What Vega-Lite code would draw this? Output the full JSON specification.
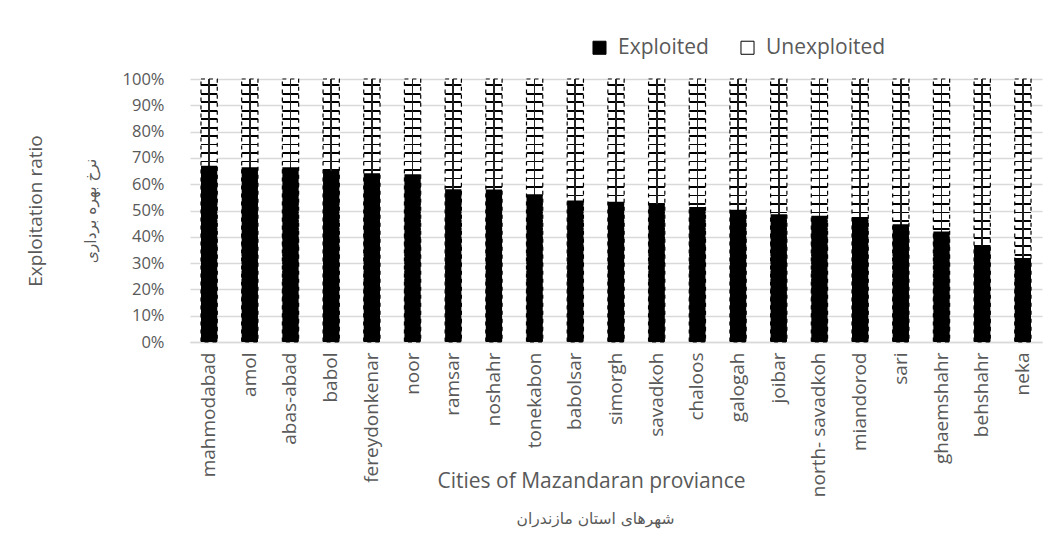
{
  "$schema": "https://vega.github.io/schema/vega-lite/v6.json",
  "autosize": "none",
  "width": 852,
  "height": 263,
  "padding": {"left": 190, "top": 79, "right": 7, "bottom": 196},
  "background": "white",
  "config": {
    "view": {"stroke": null},
    "font": "Open Sans"
  },
  "data": {
    "values": [
      {"city": "mahmodabad", "Exploited": 0.670, "Unexploited": 0.330},
      {"city": "amol", "Exploited": 0.664, "Unexploited": 0.336},
      {"city": "abas-abad", "Exploited": 0.664, "Unexploited": 0.336},
      {"city": "babol", "Exploited": 0.651, "Unexploited": 0.349},
      {"city": "fereydonkenar", "Exploited": 0.642, "Unexploited": 0.358},
      {"city": "noor", "Exploited": 0.638, "Unexploited": 0.362},
      {"city": "ramsar", "Exploited": 0.581, "Unexploited": 0.419},
      {"city": "noshahr", "Exploited": 0.580, "Unexploited": 0.420},
      {"city": "tonekabon", "Exploited": 0.562, "Unexploited": 0.438},
      {"city": "babolsar", "Exploited": 0.538, "Unexploited": 0.462},
      {"city": "simorgh", "Exploited": 0.533, "Unexploited": 0.467},
      {"city": "savadkoh", "Exploited": 0.524, "Unexploited": 0.476},
      {"city": "chaloos", "Exploited": 0.513, "Unexploited": 0.487},
      {"city": "galogah", "Exploited": 0.503, "Unexploited": 0.497},
      {"city": "joibar", "Exploited": 0.486, "Unexploited": 0.514},
      {"city": "north- savadkoh", "Exploited": 0.480, "Unexploited": 0.520},
      {"city": "miandorod", "Exploited": 0.475, "Unexploited": 0.525},
      {"city": "sari", "Exploited": 0.448, "Unexploited": 0.552},
      {"city": "ghaemshahr", "Exploited": 0.420, "Unexploited": 0.580},
      {"city": "behshahr", "Exploited": 0.367, "Unexploited": 0.633},
      {"city": "neka", "Exploited": 0.319, "Unexploited": 0.681}
    ]
  },
  "transform": [
    {"fold": ["Exploited", "Unexploited"], "as": ["series", "value"]}
  ],
  "resolve": {"axis": {"x": "independent", "y": "independent"}},
  "layer": [
    {
      "mark": {
        "type": "bar",
        "stroke": "#000000",
        "strokeWidth": 1.2,
        "strokeDash": [4, 4],
        "fill": {
          "gradient": "linear", "x1": 0, "y1": 0, "x2": 0, "y2": 1,
          "stops": [
            {"offset": 0, "color": "#ffffff"},
            {"offset": 0.02, "color": "#ffffff"}, {"offset": 0.02, "color": "#000000"}, {"offset": 0.027, "color": "#000000"}, {"offset": 0.027, "color": "#ffffff"},
            {"offset": 0.0523, "color": "#ffffff"}, {"offset": 0.0523, "color": "#000000"}, {"offset": 0.0593, "color": "#000000"}, {"offset": 0.0593, "color": "#ffffff"},
            {"offset": 0.0845, "color": "#ffffff"}, {"offset": 0.0845, "color": "#000000"}, {"offset": 0.0915, "color": "#000000"}, {"offset": 0.0915, "color": "#ffffff"},
            {"offset": 0.1168, "color": "#ffffff"}, {"offset": 0.1168, "color": "#000000"}, {"offset": 0.1238, "color": "#000000"}, {"offset": 0.1238, "color": "#ffffff"},
            {"offset": 0.149, "color": "#ffffff"}, {"offset": 0.149, "color": "#000000"}, {"offset": 0.156, "color": "#000000"}, {"offset": 0.156, "color": "#ffffff"},
            {"offset": 0.1813, "color": "#ffffff"}, {"offset": 0.1813, "color": "#000000"}, {"offset": 0.1883, "color": "#000000"}, {"offset": 0.1883, "color": "#ffffff"},
            {"offset": 0.2135, "color": "#ffffff"}, {"offset": 0.2135, "color": "#000000"}, {"offset": 0.2205, "color": "#000000"}, {"offset": 0.2205, "color": "#ffffff"},
            {"offset": 0.2458, "color": "#ffffff"}, {"offset": 0.2458, "color": "#000000"}, {"offset": 0.2528, "color": "#000000"}, {"offset": 0.2528, "color": "#ffffff"},
            {"offset": 0.2781, "color": "#ffffff"}, {"offset": 0.2781, "color": "#000000"}, {"offset": 0.2851, "color": "#000000"}, {"offset": 0.2851, "color": "#ffffff"},
            {"offset": 0.3103, "color": "#ffffff"}, {"offset": 0.3103, "color": "#000000"}, {"offset": 0.3173, "color": "#000000"}, {"offset": 0.3173, "color": "#ffffff"},
            {"offset": 0.3426, "color": "#ffffff"}, {"offset": 0.3426, "color": "#000000"}, {"offset": 0.3496, "color": "#000000"}, {"offset": 0.3496, "color": "#ffffff"},
            {"offset": 0.3748, "color": "#ffffff"}, {"offset": 0.3748, "color": "#000000"}, {"offset": 0.3818, "color": "#000000"}, {"offset": 0.3818, "color": "#ffffff"},
            {"offset": 0.4071, "color": "#ffffff"}, {"offset": 0.4071, "color": "#000000"}, {"offset": 0.4141, "color": "#000000"}, {"offset": 0.4141, "color": "#ffffff"},
            {"offset": 0.4394, "color": "#ffffff"}, {"offset": 0.4394, "color": "#000000"}, {"offset": 0.4464, "color": "#000000"}, {"offset": 0.4464, "color": "#ffffff"},
            {"offset": 0.4716, "color": "#ffffff"}, {"offset": 0.4716, "color": "#000000"}, {"offset": 0.4786, "color": "#000000"}, {"offset": 0.4786, "color": "#ffffff"},
            {"offset": 0.5039, "color": "#ffffff"}, {"offset": 0.5039, "color": "#000000"}, {"offset": 0.5109, "color": "#000000"}, {"offset": 0.5109, "color": "#ffffff"},
            {"offset": 0.5361, "color": "#ffffff"}, {"offset": 0.5361, "color": "#000000"}, {"offset": 0.5431, "color": "#000000"}, {"offset": 0.5431, "color": "#ffffff"},
            {"offset": 0.5684, "color": "#ffffff"}, {"offset": 0.5684, "color": "#000000"}, {"offset": 0.5754, "color": "#000000"}, {"offset": 0.5754, "color": "#ffffff"},
            {"offset": 0.6006, "color": "#ffffff"}, {"offset": 0.6006, "color": "#000000"}, {"offset": 0.6076, "color": "#000000"}, {"offset": 0.6076, "color": "#ffffff"},
            {"offset": 0.6329, "color": "#ffffff"}, {"offset": 0.6329, "color": "#000000"}, {"offset": 0.6399, "color": "#000000"}, {"offset": 0.6399, "color": "#ffffff"},
            {"offset": 0.6652, "color": "#ffffff"}, {"offset": 0.6652, "color": "#000000"}, {"offset": 0.6722, "color": "#000000"}, {"offset": 0.6722, "color": "#ffffff"},
            {"offset": 0.6974, "color": "#ffffff"}, {"offset": 0.6974, "color": "#000000"}, {"offset": 0.7044, "color": "#000000"}, {"offset": 0.7044, "color": "#ffffff"},
            {"offset": 0.7297, "color": "#ffffff"}, {"offset": 0.7297, "color": "#000000"}, {"offset": 0.7367, "color": "#000000"}, {"offset": 0.7367, "color": "#ffffff"},
            {"offset": 0.7619, "color": "#ffffff"}, {"offset": 0.7619, "color": "#000000"}, {"offset": 0.7689, "color": "#000000"}, {"offset": 0.7689, "color": "#ffffff"},
            {"offset": 0.7942, "color": "#ffffff"}, {"offset": 0.7942, "color": "#000000"}, {"offset": 0.8012, "color": "#000000"}, {"offset": 0.8012, "color": "#ffffff"},
            {"offset": 0.8265, "color": "#ffffff"}, {"offset": 0.8265, "color": "#000000"}, {"offset": 0.8335, "color": "#000000"}, {"offset": 0.8335, "color": "#ffffff"},
            {"offset": 0.8587, "color": "#ffffff"}, {"offset": 0.8587, "color": "#000000"}, {"offset": 0.8657, "color": "#000000"}, {"offset": 0.8657, "color": "#ffffff"},
            {"offset": 0.891, "color": "#ffffff"}, {"offset": 0.891, "color": "#000000"}, {"offset": 0.898, "color": "#000000"}, {"offset": 0.898, "color": "#ffffff"},
            {"offset": 0.9232, "color": "#ffffff"}, {"offset": 0.9232, "color": "#000000"}, {"offset": 0.9302, "color": "#000000"}, {"offset": 0.9302, "color": "#ffffff"},
            {"offset": 0.9555, "color": "#ffffff"}, {"offset": 0.9555, "color": "#000000"}, {"offset": 0.9625, "color": "#000000"}, {"offset": 0.9625, "color": "#ffffff"},
            {"offset": 0.9877, "color": "#ffffff"}, {"offset": 0.9877, "color": "#000000"}, {"offset": 0.9947, "color": "#000000"}, {"offset": 0.9947, "color": "#ffffff"},
            {"offset": 1, "color": "#ffffff"}
          ]
        }
      },
      "encoding": {
        "x": {
          "field": "city", "type": "nominal", "sort": null,
          "scale": {"paddingInner": 0.6, "paddingOuter": 0.27},
          "axis": {
            "orient": "bottom",
            "labelAngle": -90,
            "labelFont": "Open Sans",
            "labelFontSize": 19,
            "labelColor": "#595959",
            "labelPadding": 10,
            "ticks": false,
            "domainColor": "#d9d9d9",
            "domainWidth": 1.5,
            "grid": false,
            "title": "Cities of Mazandaran proviance",
            "titleFont": "Open Sans",
            "titleFontSize": 21,
            "titleFontWeight": "normal",
            "titleColor": "#595959",
            "titleX": 401,
            "titleY": 139,
            "titleBaseline": "middle",
            "titleAlign": "center"
          }
        },
        "y": {
          "aggregate": "sum", "field": "value", "type": "quantitative",
          "scale": {"domain": [0, 1], "nice": false},
          "axis": {
            "orient": "left",
            "values": [0, 0.1, 0.2, 0.3, 0.4, 0.5, 0.6, 0.7, 0.8, 0.9, 1],
            "format": ".0%",
            "labelFont": "Open Sans",
            "labelFontSize": 16.5,
            "labelColor": "#595959",
            "labelPadding": 26,
            "ticks": false,
            "domain": false,
            "grid": true,
            "gridColor": "#d9d9d9",
            "gridWidth": 1.5,
            "title": "نرخ بهره برداری",
            "titleFont": "DejaVu Sans",
            "titleFontSize": 15.5,
            "titleFontWeight": "normal",
            "titleColor": "#595959",
            "titleX": -100,
            "titleBaseline": "middle"
          }
        }
      }
    },
    {
      "mark": {
        "type": "bar",
        "fill": {
          "gradient": "linear", "x1": 0, "y1": 0, "x2": 1, "y2": 0,
          "stops": [
            {"offset": 0, "color": "rgba(0,0,0,0)"},
            {"offset": 0.45, "color": "rgba(0,0,0,0)"},
            {"offset": 0.45, "color": "#222222"},
            {"offset": 0.55, "color": "#222222"},
            {"offset": 0.55, "color": "rgba(0,0,0,0)"},
            {"offset": 1, "color": "rgba(0,0,0,0)"}
          ]
        }
      },
      "encoding": {
        "x": {
          "field": "city", "type": "nominal", "sort": null,
          "axis": {
            "orient": "bottom",
            "labels": false,
            "ticks": false,
            "domain": false,
            "grid": false,
            "title": "شهرهای استان مازندران",
            "titleFont": "DejaVu Sans",
            "titleFontSize": 15.5,
            "titleFontWeight": "normal",
            "titleColor": "#595959",
            "titleX": 405,
            "titleY": 176,
            "titleBaseline": "middle",
            "titleAlign": "center"
          }
        },
        "y": {
          "aggregate": "sum", "field": "value", "type": "quantitative",
          "axis": {
            "orient": "left",
            "labels": false,
            "ticks": false,
            "domain": false,
            "grid": false,
            "title": "Exploitation ratio",
            "titleFont": "Open Sans",
            "titleFontSize": 19,
            "titleFontWeight": "normal",
            "titleColor": "#595959",
            "titleX": -155,
            "titleBaseline": "middle"
          }
        }
      }
    },
    {
      "mark": {"type": "bar"},
      "encoding": {
        "x": {"field": "city", "type": "nominal", "sort": null, "axis": null},
        "y": {"field": "value", "type": "quantitative", "stack": "zero", "axis": null},
        "order": {"field": "series", "type": "nominal", "sort": "ascending"},
        "color": {
          "field": "series", "type": "nominal",
          "scale": {"domain": ["Exploited", "Unexploited"], "range": ["#000000", "rgba(0,0,0,0)"]},
          "legend": {
            "title": null,
            "orient": "none",
            "direction": "horizontal",
            "legendX": 399,
            "legendY": -42,
            "symbolType": "square",
            "symbolSize": 170,
            "symbolStrokeColor": "#000000",
            "symbolStrokeWidth": 1,
            "labelFont": "Open Sans",
            "labelFontSize": 21,
            "labelColor": "#595959",
            "labelOffset": 8,
            "columnPadding": 28
          }
        }
      }
    }
  ]
}
